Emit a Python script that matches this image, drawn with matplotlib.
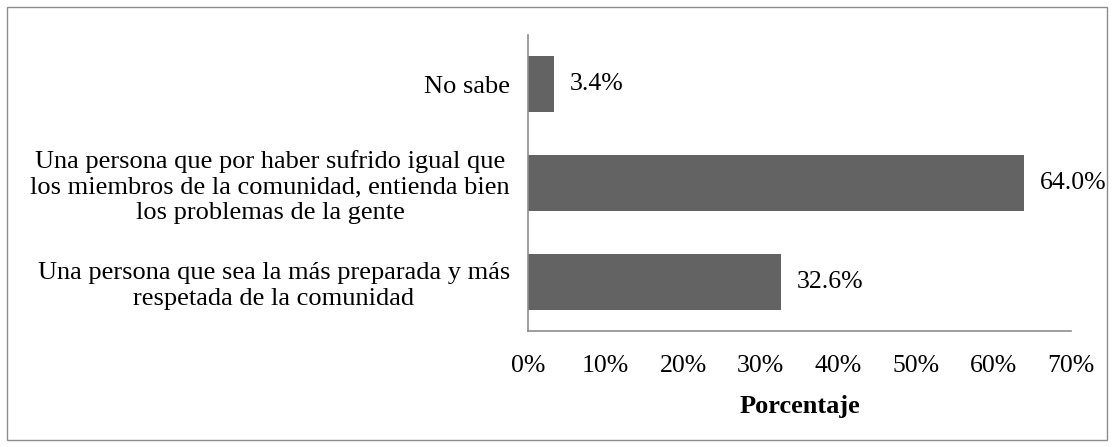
import matplotlib
matplotlib.use("Agg")
import matplotlib.pyplot as plt
from matplotlib.patches import Rectangle

CATEGORIES = [
    "Una persona que sea la más preparada y más\nrespetada de la comunidad",
    "Una persona que por haber sufrido igual que\nlos miembros de la comunidad, entienda bien\nlos problemas de la gente",
    "No sabe",
]
VALUES = [32.6, 64.0, 3.4]
X_TICKS = [0, 10, 20, 30, 40, 50, 60, 70]

plt.rcParams["font.family"] = ["Liberation Serif", "DejaVu Serif"]

fig = plt.figure(figsize=(11.14, 4.47), dpi=100)
ax = fig.add_axes([528 / 1114, 116 / 447, 543 / 1114, 296 / 447])

pos = list(range(len(CATEGORIES)))
ax.barh(pos, VALUES, height=0.57, color="#636363")
for y, v in zip(pos, VALUES):
    ax.text(v + 2.0, y, f"{v:.1f}%", va="center", ha="left", fontsize=18.5)

ax.set_xlim(0, 70)
ax.set_ylim(-0.5, 2.5)
ax.set_xticks(X_TICKS)
ax.set_xticklabels([f"{t}%" for t in X_TICKS], fontsize=18.5)
ax.set_yticks(pos)
ax.set_yticklabels(CATEGORIES, fontsize=19, multialignment="center",
                   linespacing=1.2)
ax.tick_params(axis="both", length=0)
ax.tick_params(axis="x", pad=17)
ax.tick_params(axis="y", pad=13)
ax.set_xlabel("Porcentaje", fontsize=19, fontweight="bold", labelpad=13)

for side in ["top", "right"]:
    ax.spines[side].set_visible(False)
for side in ["left", "bottom"]:
    ax.spines[side].set_color("#8c8c8c")
    ax.spines[side].set_linewidth(1.2)

fig.patches.append(Rectangle((7 / 1114, 7 / 447), 1100 / 1114, 433 / 447,
                             transform=fig.transFigure, fill=False,
                             edgecolor="#8c8c8c", linewidth=1.0))

fig.savefig("out.png", dpi=100)
